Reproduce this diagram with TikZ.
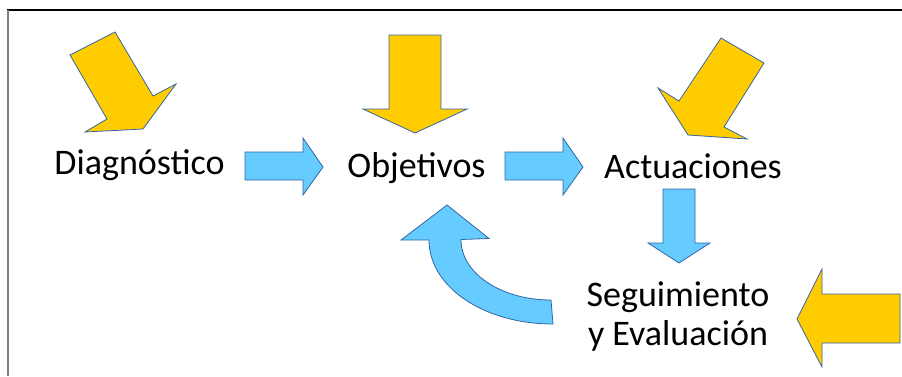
\documentclass[tikz,border=0pt]{standalone}
\usepackage{fontspec}
\setmainfont{Carlito}
\definecolor{arrowyellow}{HTML}{FFCC00}
\definecolor{arrowblue}{HTML}{66CCFF}
\definecolor{shapeline}{HTML}{3465A4}
\begin{document}
\begin{tikzpicture}[x=1pt,y=-1pt,
  yarrow/.style={fill=arrowyellow,draw=shapeline,line width=0.8pt,line join=miter},
  barrow/.style={fill=arrowblue,draw=shapeline,line width=0.8pt,line join=miter},
  lbl/.style={font=\fontsize{36}{39}\selectfont,inner sep=0pt,anchor=base,align=center}]
\useasboundingbox (0,0) rectangle (902,376);
% frame
\draw[black,line width=1.5pt] (7,10) -- (902,10);
\draw[gray,line width=2pt] (7.5,10) -- (7.5,376);
% labels
\node[lbl] (diag) at (139.5,174) {Diagnóstico};
\node[lbl] (obj) at (416.5,177) {Objetivos};
\node[lbl] (act) at (693,178) {Actuaciones};
\node[lbl] (seg) at (678,345) {Seguimiento\\y Evaluación};
% yellow arrows
\draw[yarrow] (70,55) -- (115,32) -- (153,96) -- (176,84) -- (143,129) -- (85,132) -- (107,119) -- cycle;
\draw[yarrow] (389,35) -- (441,35) -- (441,109) -- (467,109) -- (415,133) -- (363,109) -- (389,109) -- cycle;
\draw[yarrow] (721,38) -- (764,63) -- (724,127) -- (747,139) -- (688,135) -- (658,88) -- (679,101) -- cycle;
\draw[yarrow] (900,294) -- (822,294) -- (822,269) -- (797,319) -- (822,367) -- (822,343) -- (900,343) -- cycle;
% blue arrows
\draw[barrow] (245,152) -- (303,152) -- (303,138) -- (323,167) -- (303,195) -- (303,180) -- (245,180) -- cycle;
\draw[barrow] (505,152) -- (563,152) -- (563,138) -- (583,167) -- (563,195) -- (563,180) -- (505,180) -- cycle;
\draw[barrow] (663,189) -- (695,189) -- (695,243) -- (710,243) -- (679,263) -- (648,243) -- (663,243) -- cycle;
\draw[barrow] (447,205) -- (489,238.5) -- (461,239.5)
   .. controls (461,274) and (502,300) .. (551,300) -- (553,324)
   .. controls (484,324) and (429,287) .. (429,240) -- (401,240) -- cycle;
\end{tikzpicture}
\end{document}
